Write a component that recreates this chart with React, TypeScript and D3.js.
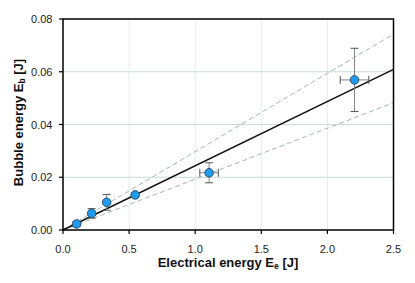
import React from "react";
import * as d3 from "d3";

const xs = [0.103, 0.217, 0.33, 0.546, 1.105, 2.205];
const ys = [0.0023, 0.0063, 0.0105, 0.0133, 0.0217, 0.0569];
const yErr = [0.0008, 0.0018, 0.003, 0.0008, 0.0038, 0.012];
const xErr = [0, 0, 0, 0, 0.07, 0.108];
const fitSlopes = [0.02437];
const boundSlopes = [0.0297, 0.0193];
const xTicks = [0, 0.5, 1.0, 1.5, 2.0, 2.5];
const yTicks = [0, 0.02, 0.04, 0.06, 0.08];

export default function App() {
  const W = 415, H = 283;
  const L = 63, R = 393.5, T = 19, B = 230;
  const x = d3.scaleLinear().domain([0, 2.5]).range([L, R]);
  const y = d3.scaleLinear().domain([0, 0.08]).range([B, T]);
  const font = "Liberation Sans, Arial, sans-serif";
  const line = d3.line<[number, number]>().x(d => x(d[0])).y(d => y(d[1]));
  return (
    <svg width={W} height={H} style={{ position: "absolute", left: 0, top: 0 }} fontFamily={font}>
      <rect x={0} y={0} width={W} height={H} fill="#fff" />
      {xTicks.slice(1, -1).map(t => (
        <line key={"gx" + t} x1={x(t)} x2={x(t)} y1={T} y2={B} stroke="#e3ecea" strokeWidth={1} />
      ))}
      {yTicks.slice(1, -1).map(t => (
        <line key={"gy" + t} x1={L} x2={R} y1={y(t)} y2={y(t)} stroke="#c9dcd7" strokeWidth={1} />
      ))}
      {boundSlopes.map(s => (
        <path key={"b" + s} d={line([[0, 0], [2.5, s * 2.5]]) || ""} stroke="#a3b8b3" strokeWidth={1} strokeDasharray="5,3" fill="none" />
      ))}
      {fitSlopes.map(s => (
        <path key={"f" + s} d={line([[0, 0], [2.5, s * 2.5]]) || ""} stroke="#111" strokeWidth={1.5} fill="none" />
      ))}
      {xs.map((xv, i) => (
        <g key={"e" + i} stroke="#555" strokeWidth={1}>
          {yErr[i] > 0 && (
            <>
              <line x1={x(xv)} x2={x(xv)} y1={y(ys[i] - yErr[i])} y2={y(ys[i] + yErr[i])} stroke="#888" />
              <line x1={x(xv) - 4} x2={x(xv) + 4} y1={y(ys[i] - yErr[i])} y2={y(ys[i] - yErr[i])} />
              <line x1={x(xv) - 4} x2={x(xv) + 4} y1={y(ys[i] + yErr[i])} y2={y(ys[i] + yErr[i])} />
            </>
          )}
          {xErr[i] > 0 && (
            <>
              <line x1={x(xv - xErr[i])} x2={x(xv + xErr[i])} y1={y(ys[i])} y2={y(ys[i])} stroke="#888" />
              <line x1={x(xv - xErr[i])} x2={x(xv - xErr[i])} y1={y(ys[i]) - 4} y2={y(ys[i]) + 4} />
              <line x1={x(xv + xErr[i])} x2={x(xv + xErr[i])} y1={y(ys[i]) - 4} y2={y(ys[i]) + 4} />
            </>
          )}
        </g>
      ))}
      {xs.map((xv, i) => (
        <circle key={"p" + i} cx={x(xv)} cy={y(ys[i])} r={4.3} fill="#1f9bef" stroke="#1a3550" strokeWidth={0.8} />
      ))}
      <rect x={L} y={T} width={R - L} height={B - T} fill="none" stroke="#000" strokeWidth={1.5} />
      {xTicks.map(t => (
        <g key={"xt" + t}>
          <line x1={x(t)} x2={x(t)} y1={B} y2={B + 4} stroke="#000" strokeWidth={1.2} />
          <text x={x(t)} y={B + 23} textAnchor="middle" fontSize={11} fill="#222">{t.toFixed(1)}</text>
        </g>
      ))}
      {yTicks.map(t => (
        <g key={"yt" + t}>
          <line x1={L - 4} x2={L} y1={y(t)} y2={y(t)} stroke="#000" strokeWidth={1.2} />
          <text x={L - 10.5} y={y(t) + 4} textAnchor="end" fontSize={11} fill="#222">{t.toFixed(2)}</text>
        </g>
      ))}
      <text x={228} y={267} textAnchor="middle" fontSize={13} fontWeight="bold" fill="#111">
        Electrical energy E<tspan fontSize={8.5} dy={2}>e</tspan><tspan dy={-2}> [J]</tspan>
      </text>
      <text transform={`translate(22.5,122.5) rotate(-90)`} textAnchor="middle" fontSize={13} fontWeight="bold" fill="#111">
        Bubble energy E<tspan fontSize={8.5} dy={2}>b</tspan><tspan dy={-2}> [J]</tspan>
      </text>
    </svg>
  );
}
